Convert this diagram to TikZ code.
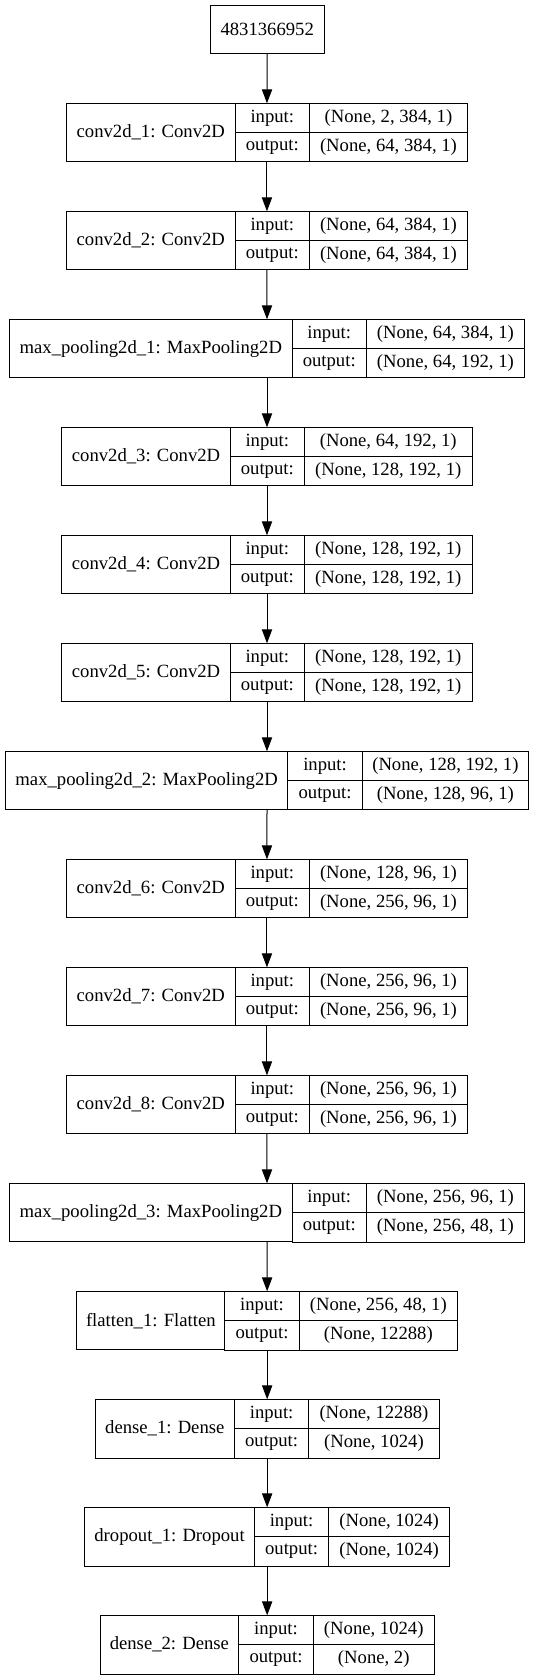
\documentclass[tikz,border=0pt]{standalone}
\usepackage{fontspec}
\setmainfont{Liberation Serif}
\usetikzlibrary{arrows.meta}

% one layer: id, top, left, div1, div2, right, name, input, output
\newcommand{\layer}[9]{%
  \node[outer, minimum width={(#6-#3)*0.75pt}] (#1) at ({(#3+#6)/2},{#2+29.35}) {};
  \node[cell, minimum width={(#4-#3)*0.75pt}, minimum height=44pt] (#1-name) at ({(#3+#4)/2},{#2+29.35}) {#7};
  \node[cell, minimum width={(#5-#4)*0.75pt}] (#1-il) at ({(#4+#5)/2},{#2+14.68}) {input:};
  \node[cell, minimum width={(#5-#4)*0.75pt}] (#1-ol) at ({(#4+#5)/2},{#2+44.02}) {output:};
  \node[cell, minimum width={(#6-#5)*0.75pt}] (#1-iv) at ({(#5+#6)/2},{#2+14.68}) {#8};
  \node[cell, minimum width={(#6-#5)*0.75pt}] (#1-ov) at ({(#5+#6)/2},{#2+44.02}) {#9};
}

\begin{document}
\begin{tikzpicture}[
  x=0.75pt, y=-0.75pt,
  font=\fontsize{14}{16}\selectfont,
  outer/.style={inner sep=0pt, outer sep=0pt, minimum height=44pt},
  cell/.style={draw, line width=0.75pt, inner sep=0pt, outer sep=0pt, minimum height=22pt},
  line/.style={-{Triangle[length=10.5pt, width=7.7pt]}, line width=0.75pt}
]
\useasboundingbox (0,0) rectangle (535,1680);

\node[draw, line width=0.75pt, inner sep=0pt, minimum width=85.7pt, minimum height=36pt] (in0) at (267.2,29.7) {4831366952};

\layer{c1}{103.3}{66.5}{235.1}{309.5}{467.4}{conv2d\_1: Conv2D}{(None, 2, 384, 1)}{(None, 64, 384, 1)}
\layer{c2}{211.3}{66.5}{235.1}{309.5}{467.4}{conv2d\_2: Conv2D}{(None, 64, 384, 1)}{(None, 64, 384, 1)}
\layer{mp1}{319.3}{9.6}{292.1}{366.4}{524.4}{max\_pooling2d\_1: MaxPooling2D}{(None, 64, 384, 1)}{(None, 64, 192, 1)}
\layer{c3}{427.3}{61.8}{230.3}{304.3}{472.2}{conv2d\_3: Conv2D}{(None, 64, 192, 1)}{(None, 128, 192, 1)}
\layer{c4}{535.3}{61.8}{230.3}{304.3}{472.2}{conv2d\_4: Conv2D}{(None, 128, 192, 1)}{(None, 128, 192, 1)}
\layer{c5}{643.3}{61.8}{230.3}{304.3}{472.2}{conv2d\_5: Conv2D}{(None, 128, 192, 1)}{(None, 128, 192, 1)}
\layer{mp2}{751.3}{5.4}{287.9}{362.2}{528.6}{max\_pooling2d\_2: MaxPooling2D}{(None, 128, 192, 1)}{(None, 128, 96, 1)}
\layer{c6}{859.3}{66.5}{235.1}{309.5}{467.4}{conv2d\_6: Conv2D}{(None, 128, 96, 1)}{(None, 256, 96, 1)}
\layer{c7}{967.3}{66.5}{235.1}{309.5}{467.4}{conv2d\_7: Conv2D}{(None, 256, 96, 1)}{(None, 256, 96, 1)}
\layer{c8}{1075.3}{66.5}{235.1}{309.5}{467.4}{conv2d\_8: Conv2D}{(None, 256, 96, 1)}{(None, 256, 96, 1)}
\layer{mp3}{1183.3}{9.6}{292.1}{366.4}{524.4}{max\_pooling2d\_3: MaxPooling2D}{(None, 256, 96, 1)}{(None, 256, 48, 1)}
\layer{fl1}{1291.3}{76.8}{224.8}{299.2}{457.5}{flatten\_1: Flatten}{(None, 256, 48, 1)}{(None, 12288)}
\layer{d1}{1399.3}{95.2}{234.4}{308.8}{439.1}{dense\_1: Dense}{(None, 12288)}{(None, 1024)}
\layer{dr1}{1507.3}{84.6}{254.5}{328.6}{449.7}{dropout\_1: Dropout}{(None, 1024)}{(None, 1024)}
\layer{d2}{1615.3}{100}{238.8}{313.2}{434.3}{dense\_2: Dense}{(None, 1024)}{(None, 2)}

\foreach \a/\b in {in0/c1, c1/c2, c2/mp1, mp1/c3, c3/c4, c4/c5, c5/mp2, mp2/c6,
                   c6/c7, c7/c8, c8/mp3, mp3/fl1, fl1/d1, d1/dr1, dr1/d2}
  \draw[line] (\a.south) -- (\b.north);
\end{tikzpicture}
\end{document}
